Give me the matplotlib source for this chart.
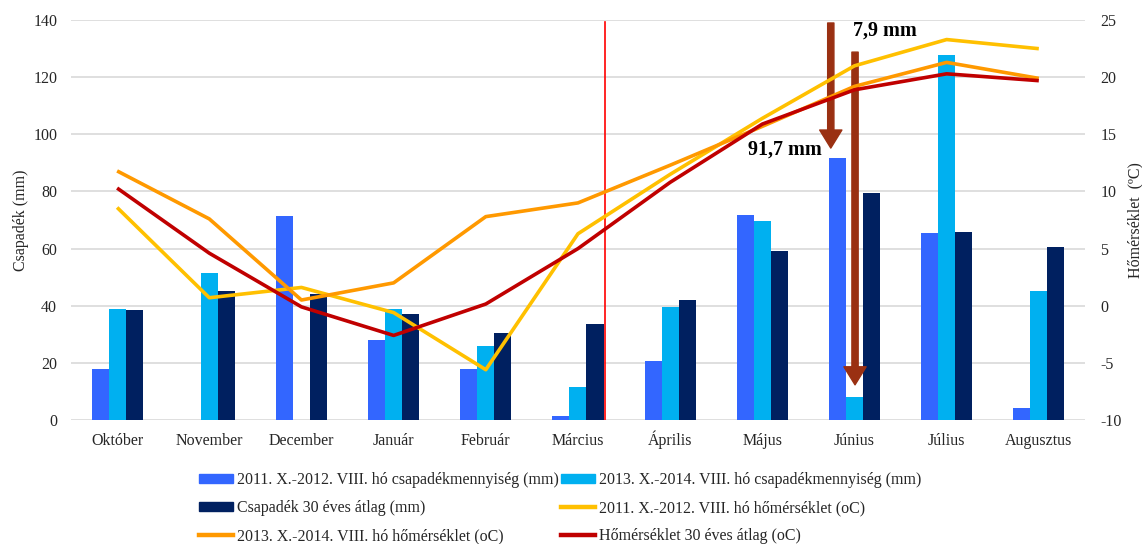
import matplotlib
matplotlib.use("Agg")
import matplotlib.pyplot as plt
import numpy as np
from matplotlib.patches import Patch
from matplotlib.lines import Line2D

plt.rcParams['font.family'] = ['Liberation Serif', 'DejaVu Serif']
plt.rcParams['axes.unicode_minus'] = False

months = ["Október", "November", "December", "Január", "Február", "Március",
          "Április", "Május", "Június", "Július", "Augusztus"]

# Monthly precipitation (mm)
prec_2011 = [18.0, 0.0, 71.3, 28.0, 18.0, 1.5, 20.5, 71.7, 91.7, 65.3, 4.2]
prec_2013 = [39.0, 51.5, 0.0, 39.0, 26.0, 11.5, 39.5, 69.5, 7.9, 127.8, 45.0]
prec_avg = [38.5, 45.0, 44.0, 37.0, 30.5, 33.5, 42.0, 59.0, 79.5, 65.7, 60.7]

# Monthly mean temperature (°C)
temp_2011 = [8.6, 0.7, 1.6, -0.6, -5.6, 6.3, 11.5, 16.4, 21.0, 23.3, 22.5]
temp_2013 = [11.8, 7.6, 0.5, 2.0, 7.8, 9.0, 12.3, 15.7, 19.2, 21.3, 19.9]
temp_avg = [10.3, 4.6, -0.1, -2.6, 0.15, 5.0, 10.8, 15.9, 18.9, 20.3, 19.7]

labels = ["2011. X.-2012. VIII. hó csapadékmennyiség (mm)",
          "2013. X.-2014. VIII. hó csapadékmennyiség (mm)",
          "Csapadék 30 éves átlag (mm)",
          "2011. X.-2012. VIII. hó hőmérséklet (oC)",
          "2013. X.-2014. VIII. hó hőmérséklet (oC)",
          "Hőmérséklet 30 éves átlag (oC)"]

c_blue, c_cyan, c_navy = "#3366FF", "#00B0F0", "#002060"
c_yel, c_org, c_red = "#FFC000", "#FF9900", "#C00000"
txt = "#262626"
arrow_c = "#9A3012"
fs = 11.5

fig = plt.figure(figsize=(11.42, 5.44), dpi=100)
ax = fig.add_axes([0.0622, 0.228, 0.8878, 0.735])
ax2 = ax.twinx()

x = np.arange(len(months))
w = 0.185
ax.bar(x - w, prec_2011, w, color=c_blue, zorder=2)
ax.bar(x, prec_2013, w, color=c_cyan, zorder=2)
ax.bar(x + w, prec_avg, w, color=c_navy, zorder=2)

ax.set_xlim(-0.5, len(months) - 0.5)
ax.set_ylim(0, 140)
ax.set_yticks(np.arange(0, 141, 20))
ax.grid(axis="y", color="#d9d9d9", linewidth=1.2, zorder=0)
ax.set_axisbelow(True)
for s in list(ax.spines.values()) + list(ax2.spines.values()):
    s.set_visible(False)
ax.tick_params(axis="y", length=0, labelsize=fs, colors=txt, pad=10)
ax.set_xticks(x)
ax.set_xticklabels(months, va="baseline")
ax.tick_params(axis="x", length=0, labelsize=fs, colors=txt, pad=18)
ax.set_ylabel("Csapadék (mm)", fontsize=fs, color=txt, labelpad=3)

lw = 2.6
ax2.plot(x, temp_2011, color=c_yel, lw=lw, solid_capstyle="butt", zorder=3)
ax2.plot(x, temp_2013, color=c_org, lw=lw, solid_capstyle="butt", zorder=3)
ax2.plot(x, temp_avg, color=c_red, lw=lw, solid_capstyle="butt", zorder=4)
ax2.set_ylim(-10, 25)
ax2.set_yticks(np.arange(-10, 26, 5))
ax2.tick_params(axis="y", length=0, labelsize=fs, colors=txt, pad=11)
ax2.set_ylabel("Hőmérséklet  (ºC)", fontsize=fs, color=txt, labelpad=4)

# March divider
ax.plot([5.29, 5.29], [0, 139.3], color="#FF0000", lw=1.2, zorder=5)

# Arrows pointing at the June precipitation bars
jun = months.index("Június")
style = "simple,head_width=1.6,head_length=1.3,tail_width=0.45"
ax.annotate("", xy=(jun - 0.257, prec_2011[jun] + 3.5), xytext=(jun - 0.257, 139),
            arrowprops=dict(arrowstyle=style, color=arrow_c, shrinkA=0, shrinkB=0),
            zorder=6)
ax.annotate("", xy=(jun + 0.006, prec_2013[jun] + 4.4), xytext=(jun + 0.006, 128.8),
            arrowprops=dict(arrowstyle=style, color=arrow_c, shrinkA=0, shrinkB=0),
            zorder=6)
ax.text(jun - 1.16, 94.8, "91,7 mm", fontsize=14.5, fontweight="bold",
        ha="left", va="center", color="black", zorder=7)
ax.text(jun - 0.02, 136.2, "7,9 mm", fontsize=14.5, fontweight="bold",
        ha="left", va="center", color="black", zorder=7)

handles = [Patch(color=c_blue), Patch(color=c_cyan), Patch(color=c_navy),
           Line2D([], [], color=c_yel, lw=3.2), Line2D([], [], color=c_org, lw=3.2),
           Line2D([], [], color=c_red, lw=3.2)]
order = [0, 2, 4, 1, 3, 5]
fig.legend([handles[i] for i in order], [labels[i] for i in order],
           loc="upper left", bbox_to_anchor=(199 / 1142, 1 - 472 / 544), ncol=2,
           frameon=False, fontsize=fs, handlelength=2.15, handleheight=0.45,
           handletextpad=0.25, columnspacing=0.1, labelspacing=0.75,
           borderaxespad=0, borderpad=0, labelcolor=txt)

fig.savefig("out.png", dpi=100)
